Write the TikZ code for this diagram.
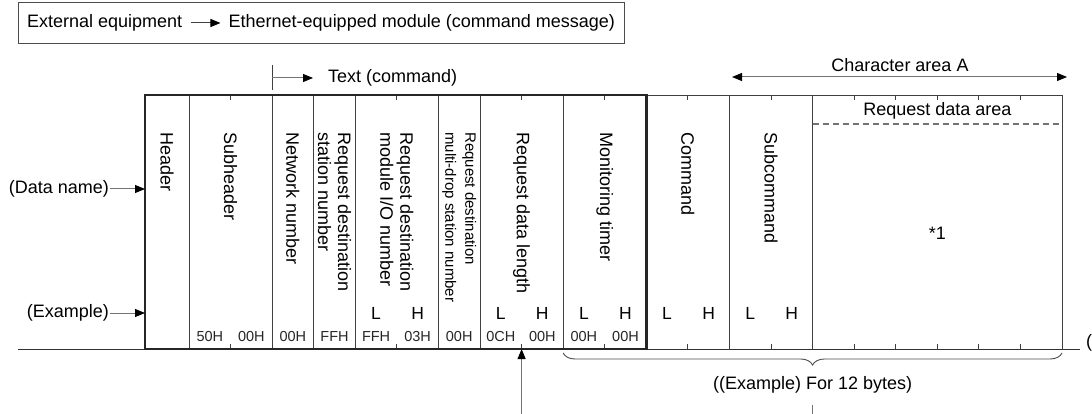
\documentclass[tikz,border=0pt]{standalone}
\usepackage{fontspec}
\setmainfont{Liberation Sans}
\usetikzlibrary{positioning,fit,arrows.meta,decorations.pathreplacing}

\begin{document}
\begin{tikzpicture}[
    x=1pt, y=-1pt,
    every node/.style={font=\fontsize{18}{21}\selectfont, inner sep=1pt},
    field/.style={draw=black!75, line width=0.9pt, minimum height=254pt, inner sep=0pt, outer sep=0pt},
    frame/.style={draw=black!85, line width=2.6pt},
    vlbl/.style={rotate=-90, anchor=west, align=left, inner sep=0pt, font=\fontsize{18}{20}\selectfont},
    vsmall/.style={vlbl, font=\fontsize{15}{20}\selectfont},
    hl/.style={font=\fontsize{17.5}{20}\selectfont},
    val/.style={font=\fontsize{14.5}{16}\selectfont, text=black!85},
    bytetick/.style={draw=black!75, line width=0.9pt},
    arr/.style={draw=black!55, line width=1pt, -{Triangle[length=10pt,width=8pt,color=black]}},
    darr/.style={draw=black!55, line width=1pt, {Triangle[length=10pt,width=8pt,color=black]}-{Triangle[length=10pt,width=8pt,color=black]}},
    conn/.style={draw=black!55, line width=1pt},
    dashsep/.style={draw=black!55, line width=1.2pt, dash pattern=on 6pt off 4pt},
    brc/.style={draw=black!70, line width=0.9pt, decorate, decoration={brace, mirror, amplitude=12pt}}
]
\useasboundingbox (0,0) rectangle (1092,414);

% title box
\node[inner sep=0pt, anchor=west] (ext) at (27,23) {External equipment};
\node[inner sep=0pt, right=46pt of ext] (eth) {Ethernet-equipped module (command message)};
\draw[arr, draw=black!75] ([xshift=9pt]ext.east) -- ([xshift=-8pt]eth.west);
\node[draw=black!70, line width=1pt, fit=(ext)(eth), inner xsep=9pt, inner ysep=11.5pt] (topbox) {};

% fields
\node[field, minimum width=44pt]     (hdr)     at (167,222)   {};
\node[field, minimum width=83.14pt]  (subhdr)  at (230.6,222) {};
\node[field, minimum width=41.57pt]  (netno)   at (292.9,222) {};
\node[field, minimum width=41.57pt]  (stno)    at (334.5,222) {};
\node[field, minimum width=83.14pt]  (iono)    at (396.9,222) {};
\node[field, minimum width=41.57pt]  (mdrop)   at (459.2,222) {};
\node[field, minimum width=83.14pt]  (dlen)    at (521.6,222) {};
\node[field, minimum width=83.14pt]  (mtimer)  at (604.7,222) {};
\node[field, minimum width=83.14pt]  (cmd)     at (687.8,222) {};
\node[field, minimum width=83.14pt]  (subcmd)  at (771.0,222) {};
\node[field, minimum width=249.45pt] (reqdata) at (937.3,222) {};

% byte ticks
\draw[bytetick] (230.6,95) -- (230.6,100);  \draw[bytetick] (230.6,344) -- (230.6,349);
\draw[bytetick] (396.9,95) -- (396.9,100);  \draw[bytetick] (396.9,344) -- (396.9,349);
\draw[bytetick] (521.6,95) -- (521.6,100);  \draw[bytetick] (521.6,344) -- (521.6,349);
\draw[bytetick] (604.7,95) -- (604.7,100);  \draw[bytetick] (604.7,344) -- (604.7,349);
\draw[bytetick] (687.8,95) -- (687.8,100);  \draw[bytetick] (687.8,344) -- (687.8,349);
\draw[bytetick] (771.0,95) -- (771.0,100);  \draw[bytetick] (771.0,344) -- (771.0,349);
\draw[bytetick] (854.1,95) -- (854.1,100);  \draw[bytetick] (854.1,344) -- (854.1,349);
\draw[bytetick] (895.7,95) -- (895.7,100);  \draw[bytetick] (895.7,344) -- (895.7,349);
\draw[bytetick] (937.3,95) -- (937.3,100);  \draw[bytetick] (937.3,344) -- (937.3,349);
\draw[bytetick] (978.8,95) -- (978.8,100);  \draw[bytetick] (978.8,344) -- (978.8,349);
\draw[bytetick] (1020.4,95) -- (1020.4,100); \draw[bytetick] (1020.4,344) -- (1020.4,349);

% base line and frame
\coordinate (baseL) at (18,349);
\coordinate (baseR) at (1080,349);
\draw[draw=black!80, line width=1pt] (baseL) -- (baseR);
\draw[frame] (hdr.north west) rectangle (mtimer.south east);

% field names
\node[vlbl] (hdrt)    at (167,132)   {Header};
\node[vlbl] (subhdrt) at (230.6,132) {Subheader};
\node[vlbl] (netnot)  at (292.9,132) {Network number};
\node[vlbl] (stnot)   at (334.5,132) {Request destination\\station number};
\node[vlbl] (ionot)   at (396.9,132) {Request destination\\module I/O number};
\node[vsmall] (mdropt) at (459.2,132) {Request destination\\multi-drop station number};
\node[vlbl] (dlent)   at (521.6,132) {Request data length};
\node[vlbl] (mtimert) at (604.7,132) {Monitoring timer};
\node[vlbl] (cmdt)    at (687.8,132) {Command};
\node[vlbl] (subcmdt) at (771.0,132) {Subcommand};

\node (rdarea) at (937.3,111) {Request data area};
\draw[dashsep] ([yshift=-29pt]reqdata.north west) -- ([yshift=-29pt]reqdata.north east);
\node (note1) at (937.3,233) {*1};

% L / H
\node[hl] (ioL) at (376.1,313) {L};  \node[hl] (ioH) at (417.6,313) {H};
\node[hl] (dlL) at (500.8,313) {L};  \node[hl] (dlH) at (542.3,313) {H};
\node[hl] (mtL) at (583.9,313) {L};  \node[hl] (mtH) at (625.5,313) {H};
\node[hl] (cmL) at (667.1,313) {L};  \node[hl] (cmH) at (708.6,313) {H};
\node[hl] (scL) at (750.2,313) {L};  \node[hl] (scH) at (791.8,313) {H};

% example values
\node[val] (shv1) at (209.8,337) {50H}; \node[val] (shv2) at (251.4,337) {00H};
\node[val] (nnv)  at (292.9,337) {00H};
\node[val] (stv)  at (334.5,337) {FFH};
\node[val] (iov1) at (376.1,337) {FFH}; \node[val] (iov2) at (417.6,337) {03H};
\node[val] (mdv)  at (459.2,337) {00H};
\node[val] (dlv1) at (500.8,337) {0CH}; \node[val] (dlv2) at (542.3,337) {00H};
\node[val] (mtv1) at (583.9,337) {00H}; \node[val] (mtv2) at (625.5,337) {00H};

% left labels
\node[anchor=east] (dname) at (110,189) {(Data name)};
\draw[arr] (dname) -- (dname -| hdr.west);
\node[anchor=east] (exname) at (110,313) {(Example)};
\draw[arr] (exname) -- (exname -| hdr.west);

% text (command)
\coordinate (txtstart) at (272.1,78);
\draw[bytetick] (272.1,65) -- (272.1,90);
\node[anchor=west] (txtcmd) at (327,78) {Text (command)};
\draw[arr] (txtstart) -- ([xshift=-14pt]txtcmd.west);

% character area A
\node (chara) at (900,65) {Character area A};
\coordinate (charL) at (732,77);
\coordinate (charR) at (1067,77);
\draw[darr] (charL) -- (charR);

% 12 bytes brace
\draw[brc] ([yshift=-4pt]mtimer.south west) -- ([yshift=-4pt]reqdata.south east);
\node (bytesnote) at (812.6,385) {((Example) For 12 bytes)};
\coordinate (notefoot) at (812.6,414);
\draw[conn, shorten <=10pt] (bytesnote.south) -- (notefoot);

% pointer to data length
\coordinate (lenfoot) at (521.6,414);
\draw[arr] (lenfoot) -- (dlen.south);

\node[anchor=west, inner sep=0pt] (cutparen) at (1086,343) {(};
\end{tikzpicture}
\end{document}
